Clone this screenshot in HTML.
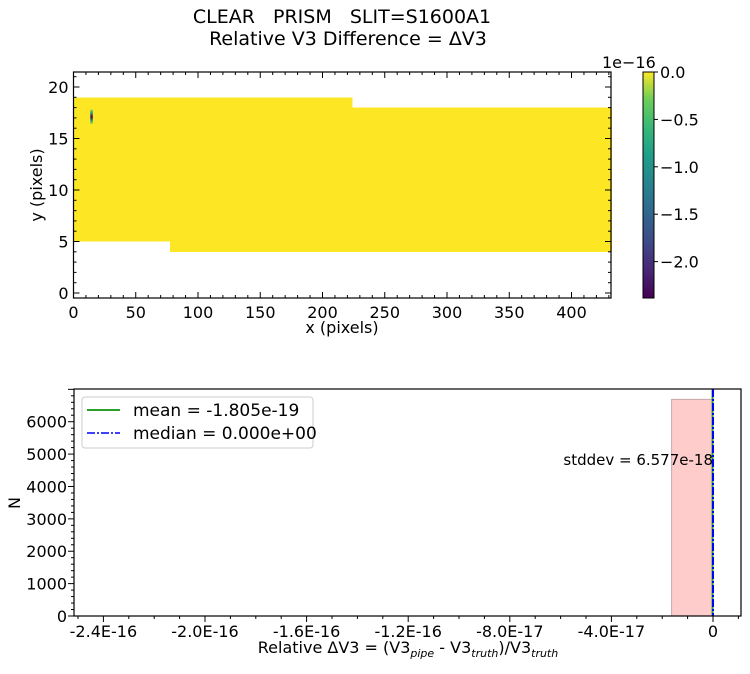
<!DOCTYPE html>
<html><head><meta charset="utf-8"><style>
body{margin:0;background:#fff;font-family:"Liberation Sans","DejaVu Sans",sans-serif;}
svg text{font-family:"DejaVu Sans","Liberation Sans",sans-serif;fill:#000;white-space:pre;}
</style></head><body>
<svg id="chart" width="750" height="669" viewBox="0 0 750 669" xmlns="http://www.w3.org/2000/svg">
<defs>
<linearGradient id="viridis" x1="0" y1="1" x2="0" y2="0">
<stop offset="0" stop-color="#440154"/><stop offset="0.13" stop-color="#482878"/><stop offset="0.25" stop-color="#3e4a89"/><stop offset="0.38" stop-color="#31688e"/><stop offset="0.5" stop-color="#26828e"/><stop offset="0.63" stop-color="#1f9e89"/><stop offset="0.75" stop-color="#35b779"/><stop offset="0.88" stop-color="#6ece58"/><stop offset="1" stop-color="#fde725"/>
</linearGradient>
<linearGradient id="spot" x1="0" y1="0" x2="0" y2="1">
<stop offset="0" stop-color="#8fd744"/><stop offset="0.25" stop-color="#21918c"/><stop offset="0.5" stop-color="#440154"/><stop offset="0.75" stop-color="#21918c"/><stop offset="1" stop-color="#b5de2b"/>
</linearGradient>
</defs>
<text x="342" y="23" font-size="19" text-anchor="middle">CLEAR   PRISM   SLIT=S1600A1</text>
<text x="348" y="45" font-size="19" text-anchor="middle">Relative V3 Difference = ΔV3</text>
<g id="topAxes"></g>
<g id="botAxes"></g>
</svg>
<script>
// top image data
const regionX0=[0,77.5,223.5];
const regionX1=[77.5,223.5,432];
const regionY0=[5,4,4];
const regionY1=[19,19,18];
const spotX=[13.5,15.5];
const spotY=[16.4,17.8];
const topXTicks=[0,50,100,150,200,250,300,350,400];
const topYTicks=[0,5,10,15,20];
const cbTicks=[0,-0.5,-1.0,-1.5,-2.0];
const cbLabels=["0.0","\u22120.5","\u22121.0","\u22121.5","\u22122.0"];
// histogram data
const binEdges=[-0.163e-16,0];
const binCounts=[6690];
const meanVal=-1.805e-19;
const medianVal=0;
const histXTicks=[-2.4e-16,-2.0e-16,-1.6e-16,-1.2e-16,-8e-17,-4e-17,0];
const histXLabels=["-2.4E-16","-2.0E-16","-1.6E-16","-1.2E-16","-8.0E-17","-4.0E-17","0"];
const histYTicks=[0,1000,2000,3000,4000,5000,6000];

const NS="http://www.w3.org/2000/svg";
function mk(p,t,a){const e=document.createElementNS(NS,t);for(const k in a)e.setAttribute(k,a[k]);p.appendChild(e);return e;}
const topG=document.getElementById('topAxes'), botG=document.getElementById('botAxes');

// top axes
const tL=73.5,tR=611,tT=72,tB=298;
const xs=x=>tL+x*1.245, ys=y=>293-y*10.3;
for(let i=0;i<regionX0.length;i++){
 const r=mk(topG,'rect',{x:xs(regionX0[i]),y:ys(regionY1[i]),width:xs(regionX1[i])-xs(regionX0[i])+0.6,height:ys(regionY0[i])-ys(regionY1[i]),fill:'#fde725','shape-rendering':'crispEdges'});
 
 
}
const sp=mk(topG,'rect',{x:xs(spotX[0]),y:ys(spotY[1]),width:xs(spotX[1])-xs(spotX[0]),height:ys(spotY[0])-ys(spotY[1]),fill:'url(#spot)'});


for(let v=0;v<=430;v+=10){const x=xs(v),maj=v%50===0;
 mk(topG,'line',{x1:x,x2:x,y1:tB,y2:tB-(maj?6:3),stroke:'#000'});
 mk(topG,'line',{x1:x,x2:x,y1:tT,y2:tT+(maj?6:3),stroke:'#000'});}
for(let v=0;v<=21;v++){const y=ys(v),maj=v%5===0;
 mk(topG,'line',{x1:tL,x2:tL+(maj?6:3),y1:y,y2:y,stroke:'#000'});
 mk(topG,'line',{x1:tR,x2:tR-(maj?6:3),y1:y,y2:y,stroke:'#000'});}
topXTicks.forEach(v=>{const t=mk(topG,'text',{x:xs(v),y:318,'font-size':16,'text-anchor':'middle'});t.textContent=v;
 
 });
topYTicks.forEach(v=>{const t=mk(topG,'text',{x:tL-5,y:ys(v)+6,'font-size':16,'text-anchor':'end'});t.textContent=v;
 
 });
const tf=mk(topG,'rect',{x:tL,y:tT,width:tR-tL,height:tB-tT,fill:'none',stroke:'#000','stroke-width':1.2});


let t=mk(topG,'text',{x:342,y:333,'font-size':16,'text-anchor':'middle'});t.textContent='x (pixels)';


t=mk(topG,'text',{x:42,y:185,'font-size':16,'text-anchor':'middle',transform:'rotate(-90 42 185)'});t.textContent='y (pixels)';


// colorbar
const cL=643,cR=654,cT=72,cB=298,cys=v=>cT-v*94.8;
const cb=mk(topG,'rect',{x:cL,y:cT,width:cR-cL,height:cB-cT,fill:'url(#viridis)',stroke:'#000','stroke-width':1});


cbTicks.forEach((v,i)=>{const y=cys(v);mk(topG,'line',{x1:cR,x2:cR+4,y1:y,y2:y,stroke:'#000'});
 const l=mk(topG,'text',{x:cR+6,y:y+6,'font-size':16});l.textContent=cbLabels[i];
 
 });
t=mk(topG,'text',{x:602,y:68,'font-size':16});t.textContent='1e\u221216';



// histogram
const hL=74,hR=741,hT=389,hB=616;
const hx=v=>713+v*2.54e18, hy=v=>hB-v*0.03238;
for(let i=0;i<binCounts.length;i++){
 const b=mk(botG,'rect',{x:hx(binEdges[i]),y:hy(binCounts[i]),width:hx(binEdges[i+1])-hx(binEdges[i]),height:hB-hy(binCounts[i]),fill:'#ffcccc',stroke:'#c8a8a8','stroke-width':1});
 
 
}
const ml=mk(botG,'line',{x1:hx(meanVal),x2:hx(meanVal),y1:hT,y2:hB,stroke:'#2ca02c','stroke-width':2});


const md=mk(botG,'line',{x1:hx(medianVal),x2:hx(medianVal),y1:hT,y2:hB,stroke:'#0000ff','stroke-width':2,'stroke-dasharray':'8,2,2,2'});


for(let k=-25;k<=1;k++){const x=hx(k*1e-17);if(x<hL||x>hR)continue;
 const maj=Math.abs(k)%4===0;
 mk(botG,'line',{x1:x,x2:x,y1:hB,y2:hB+(maj?6:3),stroke:'#000'});}
for(let v=0;v<=7000;v+=200){const y=hy(v);if(y<hT)continue;
 mk(botG,'line',{x1:hL,x2:hL-(v%1000===0?6:3),y1:y,y2:y,stroke:'#000'});}
histXTicks.forEach((v,i)=>{const l=mk(botG,'text',{x:hx(v),y:637,'font-size':16,'text-anchor':'middle'});l.textContent=histXLabels[i];
 
 });
histYTicks.forEach(v=>{const l=mk(botG,'text',{x:hL-7,y:hy(v)+6,'font-size':16,'text-anchor':'end'});l.textContent=v;
 
 });
const hf=mk(botG,'rect',{x:hL,y:hT,width:hR-hL,height:hB-hT,fill:'none',stroke:'#000','stroke-width':1.2});


t=mk(botG,'text',{x:713,y:465,'font-size':15,'text-anchor':'end'});t.textContent='stddev = 6.577e-18';


t=mk(botG,'text',{x:20,y:503,'font-size':16,'text-anchor':'middle',transform:'rotate(-90 20 503)'});t.textContent='N';


t=mk(botG,'text',{x:408,y:653,'font-size':16,'text-anchor':'middle'});
t.innerHTML='Relative ΔV3 = (V3<tspan font-size="11" font-style="italic" dy="4">pipe</tspan><tspan dy="-4"> - V3</tspan><tspan font-size="11" font-style="italic" dy="4">truth</tspan><tspan dy="-4">)/V3</tspan><tspan font-size="11" font-style="italic" dy="4">truth</tspan>';


// legend
const lg=mk(botG,'g',{});


mk(lg,'rect',{x:82,y:397,width:231,height:51,rx:3,fill:'#fff',stroke:'#ccc'});
mk(lg,'line',{x1:87,x2:120,y1:410,y2:410,stroke:'#2ca02c','stroke-width':2});
mk(lg,'line',{x1:87,x2:120,y1:433,y2:433,stroke:'#0000ff','stroke-width':1.5,'stroke-dasharray':'8,2,2,2'});
t=mk(lg,'text',{x:133,y:416,'font-size':17});t.textContent='mean = -1.805e-19';


t=mk(lg,'text',{x:133,y:439,'font-size':17});t.textContent='median = 0.000e+00';


</script>
</body></html>
